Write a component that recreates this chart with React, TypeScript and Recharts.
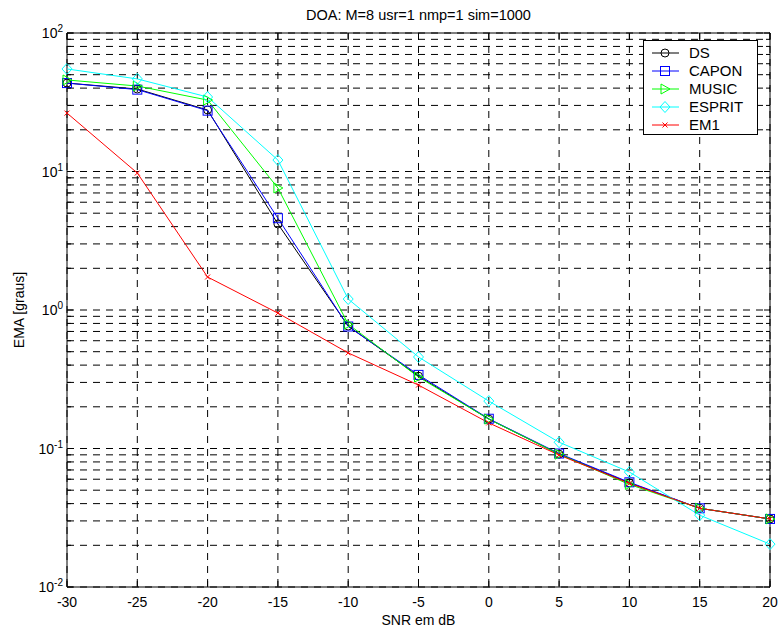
import React from 'react';
import {
  LineChart,
  Line,
  XAxis,
  YAxis,
  CartesianGrid,
  Legend,
  ReferenceArea,
  Label,
} from 'recharts';

const SNR = [-30, -25, -20, -15, -10, -5, 0, 5, 10, 15, 20];
const DS = [43.5, 39.4, 27.8, 4.18, 0.766, 0.333, 0.163, 0.091, 0.0564, 0.037, 0.031];
const CAPON = [43.5, 39.0, 27.5, 4.6, 0.76, 0.34, 0.164, 0.092, 0.057, 0.037, 0.031];
const MUSIC = [45.8, 41.4, 32.8, 7.6, 0.79, 0.328, 0.163, 0.091, 0.055, 0.037, 0.031];
const ESPRIT = [55, 46.6, 34.5, 12.1, 1.2, 0.458, 0.22, 0.111, 0.0676, 0.033, 0.0204];
const EM1 = [26.4, 9.75, 1.73, 0.95, 0.49, 0.287, 0.153, 0.0897, 0.056, 0.037, 0.031];

const X_TICKS = [-30, -25, -20, -15, -10, -5, 0, 5, 10, 15, 20];
const Y_TICKS = [
  0.01, 0.02, 0.03, 0.04, 0.05, 0.06, 0.07, 0.08, 0.09,
  0.1, 0.2, 0.3, 0.4, 0.5, 0.6, 0.7, 0.8, 0.9,
  1, 2, 3, 4, 5, 6, 7, 8, 9,
  10, 20, 30, 40, 50, 60, 70, 80, 90,
  100,
];
const Y_MAJOR = [0.01, 0.1, 1, 10, 100];
const Y_MAJOR_EXP = ['-2', '-1', '0', '1', '2'];

const TITLE = 'DOA: M=8 usr=1 nmp=1 sim=1000';

const SERIES = [
  { key: 'DS', values: DS, color: '#000000', marker: 'circle' },
  { key: 'CAPON', values: CAPON, color: '#0000ff', marker: 'square' },
  { key: 'MUSIC', values: MUSIC, color: '#00ff00', marker: 'triangle' },
  { key: 'ESPRIT', values: ESPRIT, color: '#00ffff', marker: 'diamond' },
  { key: 'EM1', values: EM1, color: '#ff0000', marker: 'x' },
];

const data = SNR.map((snr, i) => {
  const row: any = { snr };
  SERIES.forEach((s) => (row[s.key] = s.values[i]));
  return row;
});

const FONT = '"Liberation Sans", Arial, sans-serif';
const PLOT = { left: 67, right: 770, top: 33, bottom: 587 };

const Marker = ({ kind, cx, cy, color }: any) => {
  const common = { fill: 'none', stroke: color, strokeWidth: 1 };
  if (kind === 'circle') return <circle cx={cx} cy={cy} r={4} {...common} />;
  if (kind === 'square') return <rect x={cx - 4.5} y={cy - 4.5} width={9} height={9} {...common} />;
  if (kind === 'triangle')
    return <polygon points={`${cx - 4},${cy - 5} ${cx + 5},${cy} ${cx - 4},${cy + 5}`} {...common} />;
  if (kind === 'diamond')
    return <polygon points={`${cx},${cy - 5.5} ${cx + 5},${cy} ${cx},${cy + 5.5} ${cx - 5},${cy}`} {...common} />;
  return (
    <g {...common}>
      <line x1={cx - 2.5} y1={cy - 2.5} x2={cx + 2.5} y2={cy + 2.5} />
      <line x1={cx - 2.5} y1={cy + 2.5} x2={cx + 2.5} y2={cy - 2.5} />
    </g>
  );
};

const YTick = (props: any) => {
  const { y, payload } = props;
  const idx = Y_MAJOR.indexOf(payload.value);
  const len = idx >= 0 ? 6 : 4;
  return (
    <g>
      <line x1={PLOT.left} x2={PLOT.left + len} y1={y} y2={y} stroke="#000" />
      <line x1={PLOT.right - len} x2={PLOT.right} y1={y} y2={y} stroke="#000" />
      {idx >= 0 && (
        <text x={63} y={y + 5} textAnchor="end" fontSize={14} fontFamily={FONT} fill="#000">
          10
          <tspan dy={-6} fontSize={10}>
            {Y_MAJOR_EXP[idx]}
          </tspan>
        </text>
      )}
    </g>
  );
};

const XTick = (props: any) => {
  const { x, payload } = props;
  return (
    <g>
      <line x1={x} x2={x} y1={PLOT.bottom} y2={PLOT.bottom - 6} stroke="#000" />
      <line x1={x} x2={x} y1={PLOT.top} y2={PLOT.top + 6} stroke="#000" />
      <text x={x} y={607} textAnchor="middle" fontSize={14} fontFamily={FONT} fill="#000">
        {payload.value}
      </text>
    </g>
  );
};

// legend keeps the plotting order, not the alphabetical one
const LegendBox = () => (
  <svg width={115} height={95} style={{ display: 'block' }}>
    <rect x={0.5} y={0.5} width={114} height={94} fill="#fff" stroke="#000" />
    {SERIES.map((s, i) => {
      const y = 13 + i * 18;
      return (
        <g key={s.key}>
          <line x1={9} x2={36} y1={y} y2={y} stroke={s.color} />
          <Marker kind={s.marker} cx={22} cy={y} color={s.color} />
          <text x={46} y={y + 5} fontSize={15} fontFamily={FONT} fill="#000">
            {s.key}
          </text>
        </g>
      );
    })}
  </svg>
);

export default function App() {
  return (
    <div style={{ position: 'absolute', left: 0, top: 0, width: 778, height: 627, background: '#fff' }}>
      <div
        style={{
          position: 'absolute',
          left: 0,
          width: 837,
          top: 7,
          textAlign: 'center',
          fontFamily: FONT,
          fontSize: 14.5,
          color: '#000',
        }}
      >
        {TITLE}
      </div>
      <LineChart width={778} height={627} data={data} margin={{ top: 33, right: 8, bottom: 10, left: 7 }}>
        <CartesianGrid stroke="#000" strokeDasharray="7 6" />
        <XAxis
          dataKey="snr"
          type="number"
          domain={[-30, 20]}
          ticks={X_TICKS}
          interval={0}
          height={30}
          axisLine={false}
          tickLine={false}
          tick={<XTick />}
        >
          <Label
            content={({ viewBox }: any) => (
              <text
                x={viewBox.x + viewBox.width / 2}
                y={viewBox.y + 38}
                textAnchor="middle"
                fontSize={14}
                fontFamily={FONT}
                fill="#000"
              >
                SNR em dB
              </text>
            )}
          />
        </XAxis>
        <YAxis
          type="number"
          scale="log"
          domain={[0.01, 100]}
          allowDataOverflow
          ticks={Y_TICKS}
          interval={0}
          width={60}
          axisLine={false}
          tickLine={false}
          tick={<YTick />}
        >
          <Label
            content={({ viewBox }: any) => {
              const cx = 20;
              const cy = viewBox.y + viewBox.height / 2;
              return (
                <text
                  x={cx}
                  y={cy}
                  transform={`rotate(-90 ${cx} ${cy})`}
                  textAnchor="middle"
                  dominantBaseline="middle"
                  fontSize={14}
                  fontFamily={FONT}
                  fill="#000"
                >
                  EMA [graus]
                </text>
              );
            }}
          />
        </YAxis>
        <ReferenceArea x1={-30} x2={20} y1={0.01} y2={100} fill="none" stroke="#000" strokeWidth={1} />
        {SERIES.map((s) => (
          <Line
            key={s.key}
            dataKey={s.key}
            name={s.key}
            stroke={s.color}
            strokeWidth={1}
            type="linear"
            isAnimationActive={false}
            dot={(p: any) => <Marker key={`${s.key}-${p.index}`} kind={s.marker} cx={p.cx} cy={p.cy} color={s.color} />}
            activeDot={false}
          />
        ))}
        <Legend
          layout="vertical"
          align="center"
          verticalAlign="middle"
          width={115}
          height={95}
          wrapperStyle={{ position: 'absolute', left: 643, top: 40, width: 115, height: 95 }}
          content={<LegendBox />}
        />
      </LineChart>
    </div>
  );
}
